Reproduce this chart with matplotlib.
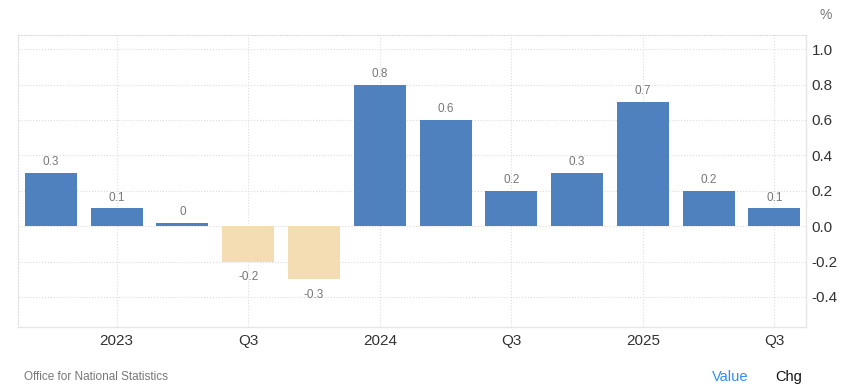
import matplotlib.pyplot as plt

plt.rcParams['font.family'] = ['Liberation Sans', 'DejaVu Sans']

quarters = ['Q4 2022', 'Q1 2023', 'Q2 2023', 'Q3 2023', 'Q4 2023', 'Q1 2024',
            'Q2 2024', 'Q3 2024', 'Q4 2024', 'Q1 2025', 'Q2 2025', 'Q3 2025']
values = [0.3, 0.1, 0.02, -0.2, -0.3, 0.8, 0.6, 0.2, 0.3, 0.7, 0.2, 0.1]
bar_labels = ['0.3', '0.1', '0', '-0.2', '-0.3', '0.8', '0.6', '0.2', '0.3', '0.7', '0.2', '0.1']
tick_pos = [1, 3, 5, 7, 9, 11]
tick_labels = ['2023', 'Q3', '2024', 'Q3', '2025', 'Q3']
y_ticks = [-0.4, -0.2, 0.0, 0.2, 0.4, 0.6, 0.8, 1.0]

blue = '#4e81bd'
tan = '#f4ddb3'
grey = '#777777'

fig = plt.figure(figsize=(8.45, 3.89), dpi=100)
ax = fig.add_axes([18 / 845, 1 - 327 / 389, (806 - 18) / 845, (327 - 35) / 389])

x = list(range(len(values)))
colors = [blue if v >= 0 else tan for v in values]
ax.bar(x, values, width=0.79, color=colors, zorder=3)

for xi, v, lab in zip(x, values, bar_labels):
    if v >= 0:
        ax.annotate(lab, (xi, v), xytext=(0, 3.5), textcoords='offset points',
                    ha='center', va='bottom', fontsize=8.5, color=grey)
    else:
        ax.annotate(lab, (xi, v), xytext=(0, -7), textcoords='offset points',
                    ha='center', va='top', fontsize=8.5, color=grey)

ax.set_xlim(-0.5, 11.48)
ax.set_ylim(-0.57, 1.08)

ax.set_xticks(tick_pos)
ax.set_xticklabels(tick_labels, fontsize=11, color='#333333')
ax.set_yticks(y_ticks)
ax.set_yticklabels([f'{t:.1f}' for t in y_ticks], fontsize=11, color='#333333')
ax.yaxis.tick_right()
ax.tick_params(axis='both', length=0, pad=4)
ax.tick_params(axis='x', pad=5)

ax.grid(True, linestyle=':', color='#dcdcdc', linewidth=0.8, zorder=0)
for side in ['top', 'left']:
    ax.spines[side].set_visible(True)
    ax.spines[side].set_linestyle(':')
    ax.spines[side].set_color('#dcdcdc')
    ax.spines[side].set_linewidth(0.8)
for side in ['right', 'bottom']:
    ax.spines[side].set_color('#e6e6e6')
    ax.spines[side].set_linewidth(1)

fig.text(826 / 845, 1 - 15 / 389, '%', fontsize=10, color=grey, ha='center', va='center')
fig.text(24 / 845, 1 - 377 / 389, 'Office for National Statistics', fontsize=8.5,
         color=grey, ha='left', va='center')
fig.text(730 / 845, 1 - 377 / 389, 'Value', fontsize=10.5, color='#2f8ef2', ha='center', va='center')
fig.text(789 / 845, 1 - 377 / 389, 'Chg', fontsize=10.5, color='#111111', ha='center', va='center')

fig.savefig('out.png', dpi=100)
